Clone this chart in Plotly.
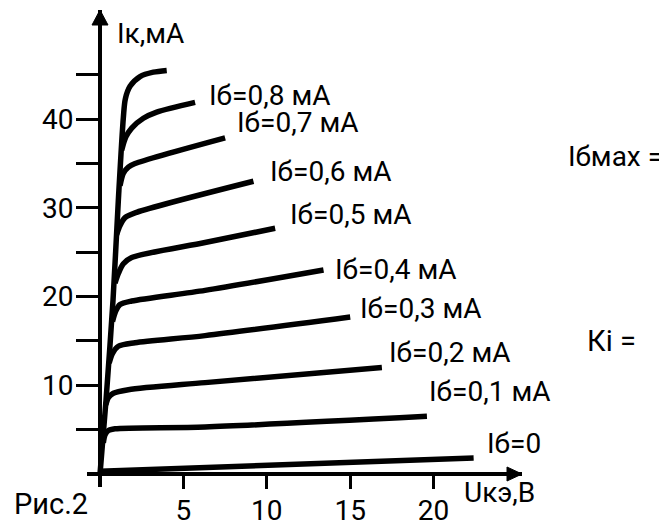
import plotly.graph_objects as go

# ---- data ----
# saturation line that continues into the top (unlabelled) curve
top_x = [0.0, 0.36, 0.78, 1.10, 1.40, 1.52, 1.80, 2.40, 3.20, 4.00]
top_y = [0.0, 8.3, 19.6, 30.9, 40.2, 42.3, 43.7, 44.8, 45.3, 45.5]

c08_x = [1.30, 1.55, 1.90, 2.60, 3.40, 5.70]
c08_y = [36.5, 38.0, 39.0, 40.1, 40.8, 41.9]
c07_x = [1.20, 1.40, 1.70, 2.10, 7.50]
c07_y = [32.5, 33.9, 34.6, 35.0, 37.9]
c06_x = [1.00, 1.20, 1.50, 2.20, 9.20]
c06_y = [27.0, 28.0, 28.9, 29.5, 33.0]
c05_x = [0.90, 1.10, 1.40, 1.90, 6.30, 10.50]
c05_y = [21.5, 22.6, 23.7, 24.4, 26.1, 27.7]
c04_x = [0.75, 0.95, 1.20, 1.90, 6.30, 13.40]
c04_y = [17.2, 18.4, 19.1, 19.5, 20.7, 23.0]
c03_x = [0.55, 0.75, 1.10, 2.10, 6.30, 15.00]
c03_y = [12.5, 13.6, 14.4, 14.8, 15.6, 17.7]
c02_x = [0.35, 0.50, 0.80, 1.70, 6.30, 16.90]
c02_y = [7.8, 8.6, 9.1, 9.5, 10.3, 12.0]
c01_x = [0.20, 0.30, 0.50, 0.90, 6.30, 19.60]
c01_y = [3.5, 4.4, 4.9, 5.1, 5.3, 6.5]
c00_x = [0.0, 22.4]
c00_y = [0.3, 1.8]

curves = [(top_x, top_y), (c08_x, c08_y), (c07_x, c07_y), (c06_x, c06_y),
          (c05_x, c05_y), (c04_x, c04_y), (c03_x, c03_y), (c02_x, c02_y),
          (c01_x, c01_y), (c00_x, c00_y)]

curve_labels = ["Iб=0,8 мА", "Iб=0,7 мА", "Iб=0,6 мА", "Iб=0,5 мА", "Iб=0,4 мА",
                "Iб=0,3 мА", "Iб=0,2 мА", "Iб=0,1 мА", "Iб=0"]
label_x = [6.4, 8.1, 10.06, 11.26, 13.95, 15.45, 17.2, 19.6, 23.1]
label_y = [42.7, 39.6, 34.05, 29.2, 23.1, 18.7, 13.75, 9.35, 3.4]

x_tickvals = [5, 10, 15, 20]
y_tickvals = [10, 20, 30, 40]
y_minor = [5, 15, 25, 35, 45]

FONT = "Roboto"

fig = go.Figure()
for cx, cy in curves:
    fig.add_trace(go.Scatter(x=cx, y=cy, mode="lines",
                             line=dict(color="black", width=5.5, shape="spline", smoothing=0.8),
                             hoverinfo="skip", showlegend=False))

# the page body has an 8px margin, so the figure is drawn 8px in from the window corner
OFF = 8
W, H = 667 - OFF, 522 - OFF
ml = 87 - OFF
mt = 10 - OFF
mb = H - (487 - OFF)
mr = W - (522.5 - OFF)
PW, PH = W - ml - mr, H - mt - mb
xr = [-0.78, 25.3]
yr = [-1.466, 52.31]
xpos = (100 - 87) / PW
ypos = (487 - 474) / PH


def px_x(p):
    return (p - OFF - ml) / PW


def px_y(p):
    return (H - mb - (p - OFF)) / PH


fig.update_layout(
    width=W, height=H, margin=dict(l=ml, r=mr, t=mt, b=mb, pad=0, autoexpand=False),
    paper_bgcolor="white", plot_bgcolor="white", showlegend=False,
    font=dict(family=FONT, size=27, color="black"),
    xaxis=dict(range=xr, anchor="free", position=ypos, showline=True, linewidth=4,
               linecolor="black", showgrid=False, zeroline=False, automargin=False,
               tickvals=x_tickvals, ticktext=[str(v) for v in x_tickvals],
               ticks="outside", ticklen=13, tickwidth=3, tickcolor="black",
               ticklabelstandoff=-3, tickfont=dict(size=28, family=FONT)),
    yaxis=dict(range=yr, anchor="free", position=xpos, showline=True, linewidth=4,
               linecolor="black", showgrid=False, zeroline=False, automargin=False,
               tickvals=y_tickvals, ticktext=[str(v) for v in y_tickvals],
               ticks="outside", ticklen=22, tickwidth=3, tickcolor="black",
               ticklabelstandoff=-3, tickfont=dict(size=28, family=FONT),
               minor=dict(tickvals=y_minor, ticks="outside", ticklen=22, tickwidth=3,
                          tickcolor="black", showgrid=False)),
)

# arrowheads on the axes
fig.add_shape(type="path", xref="x", yref="paper", xsizemode="pixel", ysizemode="pixel",
              xanchor=0, yanchor=1, path="M -8,-15 L 8,-15 L 0,0 Z",
              fillcolor="black", line=dict(color="black", width=1))
fig.add_shape(type="path", xref="paper", yref="y", xsizemode="pixel", ysizemode="pixel",
              xanchor=1, yanchor=0, path="M 0,0 L -15,7 L -15,-7 Z",
              fillcolor="black", line=dict(color="black", width=1))

for t, lx, ly in zip(curve_labels, label_x, label_y):
    fig.add_annotation(x=lx, y=ly, text=t, showarrow=False, xanchor="left", yanchor="middle",
                       font=dict(size=28, family=FONT))

fig.add_annotation(x=0.9, y=49.7, text="Iк,мА", showarrow=False, xanchor="left",
                   yanchor="middle", font=dict(size=28, family=FONT))

outside = [("Uкэ,В", 462, 492, 28, "left"), ("Рис.2", 12, 504, 29, "left"),
           ("Iбмах =", 666, 156, 28, "right"), ("Кi =", 586, 341, 29, "left")]
for t, lx, ly, fs, anc in outside:
    fig.add_annotation(x=px_x(lx), y=px_y(ly), xref="paper", yref="paper", text=t,
                       showarrow=False, xanchor=anc, yanchor="middle",
                       font=dict(size=fs, family=FONT))

fig.write_html("out.html")
